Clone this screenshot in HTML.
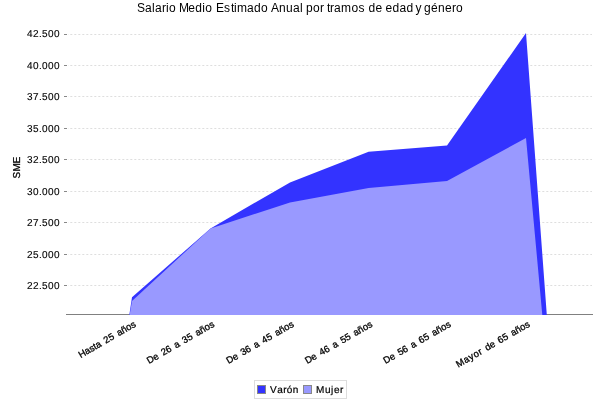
<!DOCTYPE html>
<html><head><meta charset="utf-8"><title>Salario Medio Estimado Anual</title>
<style>
html,body{margin:0;padding:0;background:#fff;}
body{width:600px;height:400px;overflow:hidden;}
svg{display:block;font-family:"Liberation Sans",Arial,sans-serif;fill:#000;}
</style></head><body>
<svg width="600" height="400" viewBox="0 0 600 400">
<rect width="600" height="400" fill="#fff"/>
<text x="137 145 152 155 162 166 169 176 179 188.2 195.2 202.2 205.2 213 216 224 231 234 237 247 254 261 268 271 279 286 293 300 303 306 313 320 324 327 330 334 341 351.4 358.4 365.4 368.4 375.4 382.4 385.4 392.4 399.4 406.4 413 415.5 421 424 431 438 445 452 456" y="12" font-size="12">Salario Medio Estimado Anual por tramos de edad y género</text>
<line x1="68" y1="34.5" x2="592" y2="34.5" stroke="#dedede" stroke-width="1" stroke-dasharray="2,2" stroke-dashoffset="1.7"/>
<line x1="64" y1="34.5" x2="67" y2="34.5" stroke="#888888" stroke-width="1"/>
<text x="27 33 39 42 48 54" y="37" font-size="10" text-rendering="geometricPrecision" stroke="#000" stroke-width="0.12">42.500</text>
<line x1="68" y1="65.5" x2="592" y2="65.5" stroke="#dedede" stroke-width="1" stroke-dasharray="2,2" stroke-dashoffset="1.7"/>
<line x1="64" y1="65.5" x2="67" y2="65.5" stroke="#888888" stroke-width="1"/>
<text x="27 33 39 42 48 54" y="69" font-size="10" text-rendering="geometricPrecision" stroke="#000" stroke-width="0.12">40.000</text>
<line x1="68" y1="96.5" x2="592" y2="96.5" stroke="#dedede" stroke-width="1" stroke-dasharray="2,2" stroke-dashoffset="1.7"/>
<line x1="64" y1="96.5" x2="67" y2="96.5" stroke="#888888" stroke-width="1"/>
<text x="27 33 39 42 48 54" y="100" font-size="10" text-rendering="geometricPrecision" stroke="#000" stroke-width="0.12">37.500</text>
<line x1="68" y1="128.5" x2="592" y2="128.5" stroke="#dedede" stroke-width="1" stroke-dasharray="2,2" stroke-dashoffset="1.7"/>
<line x1="64" y1="128.5" x2="67" y2="128.5" stroke="#888888" stroke-width="1"/>
<text x="27 33 39 42 48 54" y="132" font-size="10" text-rendering="geometricPrecision" stroke="#000" stroke-width="0.12">35.000</text>
<line x1="68" y1="159.5" x2="592" y2="159.5" stroke="#dedede" stroke-width="1" stroke-dasharray="2,2" stroke-dashoffset="1.7"/>
<line x1="64" y1="159.5" x2="67" y2="159.5" stroke="#888888" stroke-width="1"/>
<text x="27 33 39 42 48 54" y="163" font-size="10" text-rendering="geometricPrecision" stroke="#000" stroke-width="0.12">32.500</text>
<line x1="68" y1="191.5" x2="592" y2="191.5" stroke="#dedede" stroke-width="1" stroke-dasharray="2,2" stroke-dashoffset="1.7"/>
<line x1="64" y1="191.5" x2="67" y2="191.5" stroke="#888888" stroke-width="1"/>
<text x="27 33 39 42 48 54" y="195" font-size="10" text-rendering="geometricPrecision" stroke="#000" stroke-width="0.12">30.000</text>
<line x1="68" y1="222.5" x2="592" y2="222.5" stroke="#dedede" stroke-width="1" stroke-dasharray="2,2" stroke-dashoffset="1.7"/>
<line x1="64" y1="222.5" x2="67" y2="222.5" stroke="#888888" stroke-width="1"/>
<text x="27 33 39 42 48 54" y="226" font-size="10" text-rendering="geometricPrecision" stroke="#000" stroke-width="0.12">27.500</text>
<line x1="68" y1="254.5" x2="592" y2="254.5" stroke="#dedede" stroke-width="1" stroke-dasharray="2,2" stroke-dashoffset="1.7"/>
<line x1="64" y1="254.5" x2="67" y2="254.5" stroke="#888888" stroke-width="1"/>
<text x="27 33 39 42 48 54" y="258" font-size="10" text-rendering="geometricPrecision" stroke="#000" stroke-width="0.12">25.000</text>
<line x1="68" y1="285.5" x2="592" y2="285.5" stroke="#dedede" stroke-width="1" stroke-dasharray="2,2" stroke-dashoffset="1.7"/>
<line x1="64" y1="285.5" x2="67" y2="285.5" stroke="#888888" stroke-width="1"/>
<text x="27 33 39 42 48 54" y="289" font-size="10" text-rendering="geometricPrecision" stroke="#000" stroke-width="0.12">22.500</text>
<line x1="66" y1="314.5" x2="593" y2="314.5" stroke="#808080" stroke-width="1"/>
<polygon points="129.3,315 132,297.2 210.5,228.45 290,182.4 368.6,151.7 447,145.4 526,33.1 546.8,315" fill="#3333ff"/>
<polygon points="129.6,315 132,301.1 210.5,228.5 290,202.4 368.6,188.1 447,180.9 526,138.0 542.3,315" fill="#9999ff"/>
<text transform="translate(20.2,167.5) rotate(-90)" x="-11 -4 4" y="0" font-size="10" text-rendering="geometricPrecision" stroke="#000" stroke-width="0.3">SME</text>
<text transform="translate(136.5,326) rotate(-30)" font-size="9.5" text-anchor="end" word-spacing="1.6" stroke="#000" stroke-width="0.3">Hasta 25 años</text>
<text transform="translate(215.0,326) rotate(-30)" font-size="9.5" text-anchor="end" word-spacing="1.6" stroke="#000" stroke-width="0.3">De 26 a 35 años</text>
<text transform="translate(294.5,326) rotate(-30)" font-size="9.5" text-anchor="end" word-spacing="1.6" stroke="#000" stroke-width="0.3">De 36 a 45 años</text>
<text transform="translate(373.1,326) rotate(-30)" font-size="9.5" text-anchor="end" word-spacing="1.6" stroke="#000" stroke-width="0.3">De 46 a 55 años</text>
<text transform="translate(451.5,326) rotate(-30)" font-size="9.5" text-anchor="end" word-spacing="1.6" stroke="#000" stroke-width="0.3">De 56 a 65 años</text>
<text transform="translate(530.5,326) rotate(-30)" font-size="9.5" text-anchor="end" word-spacing="1.6" stroke="#000" stroke-width="0.3"><tspan letter-spacing="0.5">Mayor</tspan> de 65 años</text>
<rect x="254.5" y="380.5" width="92" height="18" fill="#fff" stroke="#ddd" stroke-width="1"/>
<rect x="257.5" y="385.5" width="8" height="8" fill="#3333ff" stroke="#888" stroke-width="1"/>
<text x="270 277.3 283.3 286.8 292.8" y="393" font-size="10" text-rendering="geometricPrecision" stroke="#000" stroke-width="0.2">Varón</text>
<rect x="303.5" y="385.5" width="8" height="8" fill="#9999ff" stroke="#888" stroke-width="1"/>
<text x="316 325 331 334 340" y="393" font-size="10" text-rendering="geometricPrecision" stroke="#000" stroke-width="0.2">Mujer</text>
</svg></body></html>
